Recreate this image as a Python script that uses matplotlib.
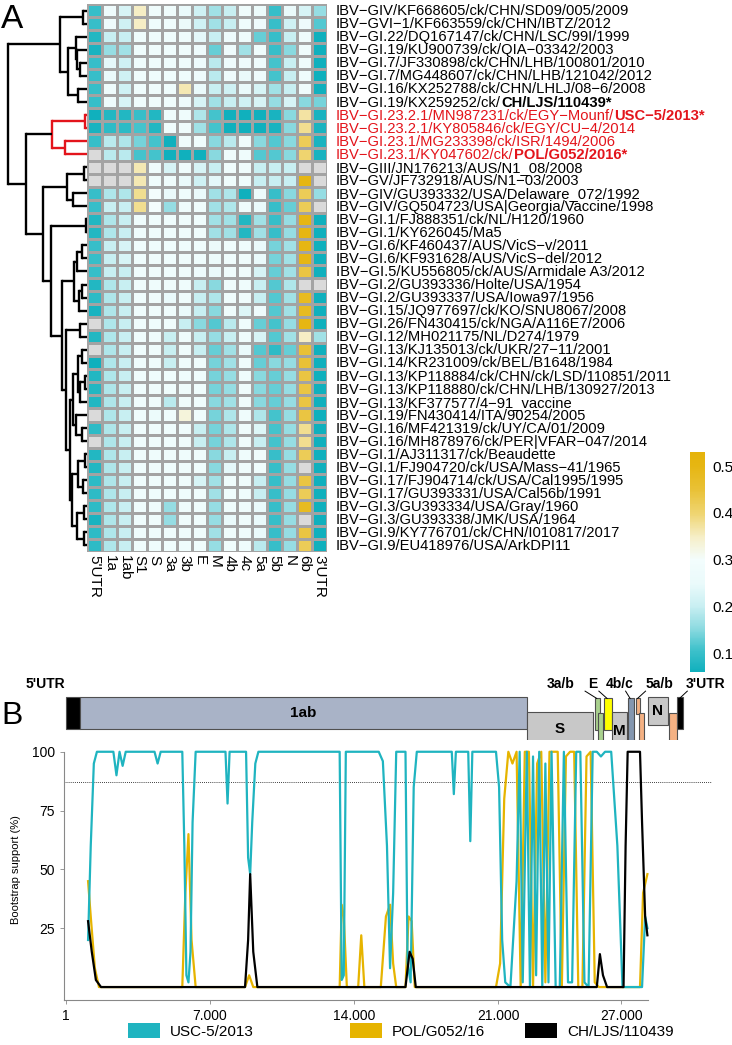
import numpy as np
import matplotlib
matplotlib.use('Agg')
import matplotlib.pyplot as plt
from matplotlib.colors import LinearSegmentedColormap, Normalize
from matplotlib.patches import Rectangle, Patch

plt.rcParams['font.family'] = ['Liberation Sans', 'DejaVu Sans']

W, H = 732, 1045

# ── Panel A data ───────────────────────────────────────────────────────
STRAINS = [
    ('IBV−GIV/KF668605/ck/CHN/SD09/005/2009', ''),
    ('IBV−GVI−1/KF663559/ck/CHN/IBTZ/2012', ''),
    ('IBV−GI.22/DQ167147/ck/CHN/LSC/99I/1999', ''),
    ('IBV−GI.19/KU900739/ck/QIA−03342/2003', ''),
    ('IBV−GI.7/JF330898/ck/CHN/LHB/100801/2010', ''),
    ('IBV−GI.7/MG448607/ck/CHN/LHB/121042/2012', ''),
    ('IBV−GI.16/KX252788/ck/CHN/LHLJ/08−6/2008', ''),
    ('IBV−GI.19/KX259252/ck/', 'CH/LJS/110439*'),
    ('IBV−GI.23.2.1/MN987231/ck/EGY−Mounf/', 'USC−5/2013*'),
    ('IBV−GI.23.2.1/KY805846/ck/EGY/CU−4/2014', ''),
    ('IBV−GI.23.1/MG233398/ck/ISR/1494/2006', ''),
    ('IBV−GI.23.1/KY047602/ck/', 'POL/G052/2016*'),
    ('IBV−GIII/JN176213/AUS/N1_08/2008', ''),
    ('IBV−GV/JF732918/AUS/N1−03/2003', ''),
    ('IBV−GIV/GU393332/USA/Delaware_072/1992', ''),
    ('IBV−GIV/GQ504723/USA|Georgia/Vaccine/1998', ''),
    ('IBV−GI.1/FJ888351/ck/NL/H120/1960', ''),
    ('IBV−GI.1/KY626045/Ma5', ''),
    ('IBV−GI.6/KF460437/AUS/VicS−v/2011', ''),
    ('IBV−GI.6/KF931628/AUS/VicS−del/2012', ''),
    ('IBV−GI.5/KU556805/ck/AUS/Armidale A3/2012', ''),
    ('IBV−GI.2/GU393336/Holte/USA/1954', ''),
    ('IBV−GI.2/GU393337/USA/Iowa97/1956', ''),
    ('IBV−GI.15/JQ977697/ck/KO/SNU8067/2008', ''),
    ('IBV−GI.26/FN430415/ck/NGA/A116E7/2006', ''),
    ('IBV−GI.12/MH021175/NL/D274/1979', ''),
    ('IBV−GI.13/KJ135013/ck/UKR/27−11/2001', ''),
    ('IBV−GI.14/KR231009/ck/BEL/B1648/1984', ''),
    ('IBV−GI.13/KP118884/ck/CHN/ck/LSD/110851/2011', ''),
    ('IBV−GI.13/KP118880/ck/CHN/LHB/130927/2013', ''),
    ('IBV−GI.13/KF377577/4−91_vaccine', ''),
    ('IBV−GI.19/FN430414/ITA/90254/2005', ''),
    ('IBV−GI.16/MF421319/ck/UY/CA/01/2009', ''),
    ('IBV−GI.16/MH878976/ck/PER|VFAR−047/2014', ''),
    ('IBV−GI.1/AJ311317/ck/Beaudette', ''),
    ('IBV−GI.1/FJ904720/ck/USA/Mass−41/1965', ''),
    ('IBV−GI.17/FJ904714/ck/USA/Cal1995/1995', ''),
    ('IBV−GI.17/GU393331/USA/Cal56b/1991', ''),
    ('IBV−GI.3/GU393334/USA/Gray/1960', ''),
    ('IBV−GI.3/GU393338/JMK/USA/1964', ''),
    ('IBV−GI.9/KY776701/ck/CHN/I010817/2017', ''),
    ('IBV−GI.9/EU418976/USA/ArkDPI11', ''),
]
RED_ROWS = [8, 9, 10, 11]
GENES = ["5'UTR", '1a', '1ab', 'S1', 'S', '3a', '3b', 'E', 'M', '4b', '4c', '5a', '5b', 'N', '6b', "3'UTR"]

n = np.nan
DIST = [
    [.10, .27, .22, .35, .28, .28, .25, .21, .17, .20, .28, .26, .10, .25, .22, .16],
    [.10, .27, .21, .35, .28, .28, .26, .21, .17, .20, .28, .27, .10, .21, .27, .12],
    [.08, .20, .20, .28, .28, .28, .28, .24, .20, .27, .28, .13, .10, .20, .28, .05],
    [.07, .16, .17, .28, .28, .28, .28, .27, .13, .27, .17, .28, .10, .15, .28, .05],
    [.10, .24, .21, .28, .28, .28, .28, .27, .19, .27, .27, .27, .11, .20, .28, .06],
    [.10, .25, .21, .28, .28, .28, .28, .27, .19, .27, .25, .27, .11, .20, .28, .06],
    [.10, .27, .21, .28, .28, .28, .36, .25, .20, .21, .25, .22, .17, .20, .28, .06],
    [.10, .27, .22, .28, .28, .28, .27, .22, .17, .20, .21, .22, .16, .22, .15, .14],
    [.06, .08, .08, .10, .08, .28, .28, .18, .11, .05, .05, .05, .07, .15, .37, .07],
    [.07, .09, .09, .11, .08, .28, .28, .17, .11, .05, .05, .05, .07, .15, .38, .07],
    [.10, .19, .18, .14, .11, .06, .28, .28, .15, .19, .28, .15, .12, .15, .42, .07],
    [n,   .19, .19, .11, .11, .05, .05, .06, .15, .28, .28, .12, .12, .15, .40, .07],
    [n,   n,   n,   .36, .28, .22, .28, .22, .20, .28, .28, .20, .20, .20, n,   n],
    [n,   n,   n,   .36, .28, .28, .25, .21, .24, .28, .28, .20, .20, .20, .50, n],
    [.10, .18, .18, .38, .30, .25, .28, .25, .17, .18, .06, .26, .10, .15, .42, .16],
    [.10, .20, .20, .38, .30, .16, .28, .28, .17, .18, .28, .25, .10, .13, .42, n],
    [.08, .18, .20, .28, .28, .28, .28, .28, .17, .17, .08, .17, .10, .16, .50, .05],
    [.08, .18, .20, .28, .28, .28, .28, .28, .17, .17, .08, .17, .10, .16, .50, .05],
    [.10, .20, .22, .28, .28, .28, .28, .28, .26, .28, .28, .25, .14, .17, .50, .06],
    [.10, .20, .22, .28, .28, .28, .28, .28, .26, .28, .28, .25, .14, .17, .50, .06],
    [.10, .20, .20, .28, .28, .28, .28, .27, .25, .28, .28, .22, .13, .17, .44, .05],
    [.08, .18, .20, .28, .28, .28, .28, .20, .15, .28, .28, .20, .12, .18, n,   n],
    [.09, .18, .20, .28, .28, .25, .28, .20, .18, .28, .28, .20, .12, .17, .48, .06],
    [.07, .18, .20, .28, .28, .28, .25, .20, .15, .28, .23, .27, .12, .17, .48, .06],
    [n,   .18, .20, .28, .28, .28, .20, .15, .12, .19, .28, .13, .11, .16, .50, .05],
    [.08, .18, .20, .28, .28, .20, .28, .20, .16, .20, .28, .22, .12, .17, .35, .17],
    [n,   .18, .20, .28, .28, .20, .28, .20, .13, .17, .25, .12, .09, .13, .45, .06],
    [.06, .18, .20, .28, .28, .20, .28, .28, .14, .17, .28, .13, .15, .16, .45, .05],
    [.08, .18, .20, .28, .28, .28, .28, .28, .14, .16, .28, .15, .13, .16, .44, .05],
    [.08, .18, .20, .28, .28, .28, .28, .28, .14, .16, .28, .15, .13, .16, .44, .05],
    [.08, .18, .20, .28, .28, .19, .28, .28, .15, .17, .28, .15, .13, .16, .44, .05],
    [n,   .18, .20, .28, .26, .28, .33, .28, .14, .18, .28, .18, .11, .16, .44, .05],
    [.09, .18, .20, .28, .28, .28, .28, .20, .14, .18, .28, .23, .11, .16, .38, .05],
    [n,   .18, .20, .28, .28, .28, .28, .20, .14, .18, .28, .20, .11, .16, .38, .05],
    [.08, .18, .20, .28, .28, .28, .28, .28, .15, .20, .28, .28, .10, .16, .42, .05],
    [.08, .18, .20, .28, .28, .28, .28, .28, .15, .24, .28, .28, .10, .16, n,   .05],
    [.09, .18, .20, .28, .28, .28, .28, .22, .17, .28, .28, .20, .10, .16, .44, .05],
    [.09, .18, .20, .28, .28, .28, .28, .28, .17, .28, .28, .20, .10, .16, .42, .05],
    [.09, .18, .20, .28, .28, .16, .28, .28, .16, .28, .28, .25, .10, .16, .48, .06],
    [.07, .18, .20, .28, .28, .16, .28, .28, .16, .25, .28, .25, .10, .16, n,   .05],
    [.09, .18, .20, .28, .28, .28, .28, .28, .17, .28, .28, .25, .10, .16, .44, .05],
    [.09, .18, .20, .28, .28, .28, .28, .28, .16, .28, .28, .19, .10, .16, .42, .05],
]

# dendrogram: (join position in px from left, child, child); ints are row indices
TREE = (8,
        (60, (83, 0, 1), (68, (76, 2, (77, 3, (80, 4, 5))), (78, 6, 7))),
        (26,
         (52, (85, 8, 9), (65, 10, 11)),
         (43,
          (67, (84, 12, 13), (73, 14, 15)),
          (51, (86, 16, 17),
           (62, (74, (77, (82, 18, 19), 20), (79, (82, 21, 22), 23)),
            (66, (80, 24, 25),
             (70, (73, (78, (82, 26, 27), (80, (85, 28, 29), 30)), (76, 31, (82, 32, 33))),
              (72, (78, (85, 34, 35), (83, 36, 37)), (77, (84, 38, 39), (84, 40, 41))))))))))
RED_NODE = 52

CBAR_TICKS = [0.1, 0.2, 0.3, 0.4, 0.5]

# ── Panel B data ───────────────────────────────────────────────────────
GENOME = [  # name, start, end, row, colour
    ("5'UTR", 1, 680, 'top', 'black'),
    ('1ab', 680, 22390, 'top', '#a9b3c7'),
    ('S', 22390, 25600, 'low', '#c8c8c8'),
    ('3a', 25700, 25940, 'upper', '#a9d18e'),
    ('3b', 25840, 26080, 'lower', '#a9d18e'),
    ('E', 26130, 26520, 'upper', '#ffff00'),
    ('M', 26520, 27250, 'low', '#c8c8c8'),
    ('4b/c', 27300, 27590, 'full', '#8497b0'),
    ('5a', 27690, 27880, 'upper5', '#f4b183'),
    ('5b', 27830, 28080, 'lower', '#f4b183'),
    ('N', 28270, 29240, 'upperN', '#c8c8c8'),
    ('6b', 29290, 29680, 'lower', '#f4b183'),
    ("3'UTR", 29680, 29970, 'top', 'black'),
]

TEAL_X = [1070, 1200, 1350, 1500, 2300, 2450, 2600, 2750, 2900, 3050, 4300, 4450, 4600,
          5650, 5750, 5850, 5950, 6050, 6150, 6300, 6450, 7750, 7850, 7950, 8750, 8850,
          8950, 9050, 9200, 9350, 13300, 13400, 13500, 13600, 15200, 15400, 15600, 15750,
          15900, 16050, 16500, 16600, 16750, 16900, 17050, 18750, 18850, 18950, 19550,
          19650, 19750, 20900, 21050, 21200, 21350, 21600, 21900, 22050, 22200, 22400,
          22550, 22700, 22850, 23000, 23150, 23300, 23450, 23600, 23800, 24000, 24200,
          24400, 24600, 24800, 25000, 25200, 25400, 25600, 25800, 26000, 26200, 26500,
          26800, 27050, 27200, 27400, 27600, 27800, 28000, 28150, 28260]
TEAL_Y = [20, 60, 95, 100, 100, 90, 100, 94, 100, 100, 100, 95, 100,
          100, 60, 5, 2, 15, 70, 100, 100, 100, 78, 100, 100, 55,
          48, 70, 95, 100, 100, 3, 5, 100, 100, 96, 60, 8,
          40, 100, 100, 10, 2, 85, 100, 100, 82, 100, 100,
          62, 100, 100, 85, 20, 2, 0, 45, 100, 2, 100,
          0, 98, 5, 100, 0, 95, 2, 100, 0, 0, 100,
          2, 2, 100, 100, 2, 0, 100, 100, 98, 100, 100,
          60, 0, 0, 0, 0, 0, 0, 30, 25]
GOLD_X = [1070, 1200, 1400, 1600, 5650, 5800, 5950, 6100, 6300, 8700, 8900, 9100, 13300,
          13400, 13500, 13650, 14200, 14350, 14500, 15300, 15550, 15750, 15900, 16050,
          16500, 16650, 16800, 16950, 20900, 21100, 21300, 21500, 21700, 21900, 22100,
          22300, 22500, 22700, 22900, 23100, 23300, 23500, 23700, 23900, 24100, 24300,
          24500, 24700, 24900, 25100, 25300, 25500, 25700, 25900, 26100, 26400, 26700,
          27000, 27300, 27600, 27900, 28050, 28260]
GOLD_Y = [45, 30, 8, 0, 0, 40, 65, 20, 0, 0, 5, 0, 0,
          35, 30, 0, 0, 22, 0, 0, 30, 35, 10, 0,
          0, 30, 28, 0, 0, 10, 80, 100, 95, 100, 0,
          100, 100, 0, 95, 100, 2, 100, 100, 100, 0, 98,
          100, 100, 0, 0, 98, 100, 2, 0, 0, 0, 0,
          0, 0, 0, 0, 40, 48]
BLACK_X = [1070, 1250, 1450, 1700, 8700, 8850, 8950, 9100, 9300, 16500, 16700, 16850,
           17000, 24000, 25800, 25950, 26100, 26300, 27100, 27200, 27300, 27900, 28000,
           28150, 28260]
BLACK_Y = [28, 15, 3, 0, 0, 20, 48, 15, 0, 0, 15, 12, 0,
           0, 0, 14, 5, 0, 0, 60, 100, 100, 70, 30, 22]

THRESHOLD = 87
XTICKS = [1, 7000, 14000, 21000, 27000]
XTICKLABELS = ['1', '7.000', '14.000', '21.000', '27.000']
YTICKS = [25, 50, 75, 100]
SERIES = ['USC-5/2013', 'POL/G052/16', 'CH/LJS/110439']
SERIES_COLORS = ['#1fb4c0', '#e6b400', '#000000']
LEGEND_LEFT = [128, 350, 525]

# ── helpers ────────────────────────────────────────────────────────────
def fbox(l, t, r, b):
    return [l / W, 1 - b / H, (r - l) / W, (b - t) / H]

fig = plt.figure(figsize=(W / 100, H / 100), dpi=100)

cmap = LinearSegmentedColormap.from_list('tealgold', [
    (0.00, '#10b0bd'), (0.10, '#3fc1cb'), (0.20, '#8fdbe1'), (0.30, '#c9eff2'),
    (0.40, '#eafafb'), (0.51, '#f3fdfd'), (0.61, '#f6efca'), (0.72, '#efd572'),
    (0.83, '#e9c136'), (0.94, '#e6b612'), (1.00, '#e5b30a')])
cmap.set_bad('#dadada')
norm = Normalize(0.06, 0.53)

# heatmap
HM_TOP, HM_BOT = 4, 552
LABEL_FS = 10.6
axh = fig.add_axes(fbox(87, HM_TOP, 327, HM_BOT))
data = np.ma.masked_invalid(np.array(DIST))
nr, nc = data.shape
mesh = axh.pcolormesh(np.arange(nc + 1), np.arange(nr + 1), data, cmap=cmap, norm=norm,
                      edgecolors='#a3a3a3', linewidth=0.8)
axh.set_xlim(0, nc)
axh.set_ylim(nr, 0)
axh.set_xticks(np.arange(nc) + 0.5)
axh.set_xticklabels(GENES, rotation=270, fontsize=11)
axh.set_yticks([])
axh.tick_params(axis='x', length=0, pad=2)
for s in axh.spines.values():
    s.set_visible(False)

# row labels
for i, (plain, bold) in enumerate(STRAINS):
    col = '#e3141b' if i in RED_ROWS else 'black'
    t = axh.text(nc + 0.6, i + 0.55, plain, fontsize=LABEL_FS, color=col, va='center',
                 ha='left', clip_on=False)
    if bold:
        axh.annotate(bold, xy=(1, 0), xycoords=t, fontsize=LABEL_FS, color=col,
                     fontweight='bold', va='bottom', ha='left')

# dendrogram
axd = fig.add_axes(fbox(5, HM_TOP, 87, HM_BOT))
axd.set_xlim(5, 87)
axd.set_ylim(nr, 0)
axd.axis('off')

def draw(node, red=False):
    if isinstance(node, int):
        return node + 0.5, 87
    h, a, b = node
    red = red or h == RED_NODE
    c = '#e3141b' if red else 'black'
    ya, xa = draw(a, red)
    yb, xb = draw(b, red)
    axd.plot([h, xa], [ya, ya], color=c, lw=1.7, solid_capstyle='butt')
    axd.plot([h, xb], [yb, yb], color=c, lw=1.7, solid_capstyle='butt')
    axd.plot([h, h], [ya, yb], color=c, lw=1.7, solid_capstyle='projecting')
    return (ya + yb) / 2, h

draw(TREE)

# colorbar
cax = fig.add_axes(fbox(690, 452, 705, 672))
cb = fig.colorbar(mesh, cax=cax, ticks=CBAR_TICKS)
cb.outline.set_visible(False)
cb.ax.tick_params(length=0, labelsize=11, pad=5)

fig.text(1 / W, 1 - 20 / H, 'A', fontsize=24, va='center', ha='left')
fig.text(1 / W, 1 - 716 / H, 'B', fontsize=23, va='center', ha='left')

# ── Panel B ───────────────────────────────────────────────────────────
XLIM = (-100, 31400)
axg = fig.add_axes(fbox(64, 697, 712, 746))
axg.set_xlim(*XLIM)
axg.set_ylim(0, 1)
axg.axis('off')
ROWS = {'top': (0.354, 1.0), 'low': (0.0, 0.69), 'upper': (0.336, 0.97),
        'lower': (0.03, 0.67), 'full': (0.03, 0.97), 'upper5': (0.65, 0.97),
        'upperN': (0.425, 1.0)}
for name, s, e, row, colr in GENOME:
    y0, y1 = ROWS[row]
    axg.add_patch(Rectangle((s, y0), e - s, y1 - y0, facecolor=colr, edgecolor='#505050',
                            lw=0.8, clip_on=False))
    if name in ('1ab', 'S', 'M', 'N'):
        axg.text((s + e) / 2, (y0 + y1) / 2 - (0.03 if name == 'M' else 0), name,
                 fontsize=11, fontweight='bold', ha='center', va='center')

lab = dict(fontsize=10, fontweight='bold', ha='center', va='center')
axg.text(-1000, 1.26, "5'UTR", **lab)
for txt, tx, x0, x1 in [('3a/b', 24050, 25230, 25800), ('E', 25600, 25900, 26300),
                        ('4b/c', 26900, 27200, 27420), ('5a/b', 28850, 28170, 27780),
                        ("3'UTR", 31100, 30200, 29820)]:
    axg.text(tx, 1.26, txt, **lab)
    axg.plot([x0, x1], [1.12, 0.97], color='black', lw=0.7, clip_on=False)
axg.text(30300, -0.15, '6b', fontsize=10, fontweight='bold', ha='left', va='center')
axg.plot([29500, 30200], [0.03, -0.12], color='black', lw=0.7, clip_on=False)

# bootscan
axp = fig.add_axes(fbox(64, 740, 712, 1000))
axp.plot(TEAL_X, TEAL_Y, color=SERIES_COLORS[0], lw=1.6, zorder=3)
axp.plot(GOLD_X, GOLD_Y, color=SERIES_COLORS[1], lw=1.6, zorder=2)
axp.plot(BLACK_X, BLACK_Y, color=SERIES_COLORS[2], lw=1.6, zorder=4)
axp.axhline(THRESHOLD, color='black', ls=(0, (1, 1.5)), lw=0.6, zorder=1)
axp.set_xlim(*XLIM)
axp.set_ylim(-5.5, 105)
axp.set_xticks(XTICKS)
axp.set_xticklabels(XTICKLABELS, fontsize=10)
axp.set_yticks(YTICKS)
axp.set_yticklabels([str(v) for v in YTICKS], fontsize=10)
axp.set_ylabel('Bootstrap support (%)', fontsize=8, labelpad=8)
axp.spines['top'].set_visible(False)
axp.spines['right'].set_visible(False)
axp.spines['bottom'].set_bounds(-100, 28300)
axp.spines['left'].set_bounds(-5.5, 100)
axp.tick_params(length=3, width=0.6, color='#888888')
for s in ('left', 'bottom'):
    axp.spines[s].set_color('#888888')
    axp.spines[s].set_linewidth(0.8)

for name, colr, left in zip(SERIES, SERIES_COLORS, LEGEND_LEFT):
    fig.legend([Patch(facecolor=colr, edgecolor='none')], [name], loc='center left',
               bbox_to_anchor=(left / W, 1 - 1031 / H), frameon=False, fontsize=11,
               handlelength=2.1, handleheight=1.15, handletextpad=0.65, borderpad=0,
               borderaxespad=0)

fig.savefig('out.png', dpi=100)
